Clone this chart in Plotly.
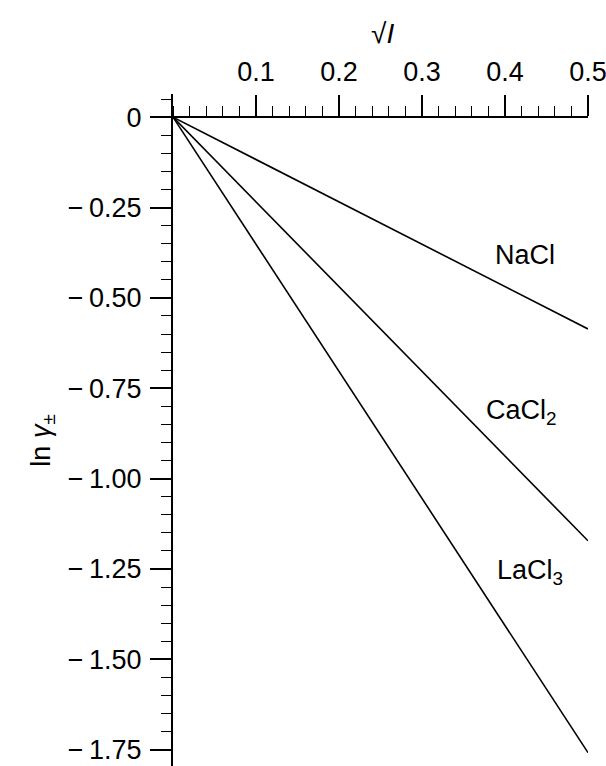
import plotly.graph_objects as go

# Data
sqrt_I = [0.0, 0.5]
lnG_NaCl = [0.0, -0.586]
lnG_CaCl2 = [0.0, -1.172]
lnG_LaCl3 = [0.0, -1.758]

x_ticks = [0.1, 0.2, 0.3, 0.4, 0.5]
x_ticktext = ["0.1", "0.2", "0.3", "0.4", "0.5"]
y_ticks = [0.0, -0.25, -0.5, -0.75, -1.0, -1.25, -1.5, -1.75]
y_ticktext = ["0", "−\u20090.25", "−\u20090.50", "−\u20090.75", "−\u20091.00",
              "−\u20091.25", "−\u20091.50", "−\u20091.75"]

labels = ["NaCl", "CaCl<sub>2</sub>", "LaCl<sub>3</sub>"]
label_x = [0.424, 0.420, 0.430]
label_y = [-0.382, -0.816, -1.258]

FONT = "Liberation Sans, Arial, sans-serif"

Y_TOP = 0.064
Y_BOT = -1.795

fig = go.Figure()
for ys in (lnG_NaCl, lnG_CaCl2, lnG_LaCl3):
    fig.add_trace(go.Scatter(x=sqrt_I, y=ys, mode="lines",
                             line=dict(color="black", width=1.6),
                             showlegend=False, hoverinfo="skip"))

for t, lx, ly in zip(labels, label_x, label_y):
    fig.add_annotation(x=lx, y=ly, text=t, showarrow=False,
                       font=dict(size=27, color="black", family=FONT))

fig.add_annotation(xref="x", yref="paper", x=0.252, y=1.0, yshift=61,
                   yanchor="middle",
                   text="√<i>I</i>", showarrow=False,
                   font=dict(size=28, color="black", family=FONT))
fig.add_annotation(xref="paper", yref="y", x=-0.36, y=-0.896,
                   text="ln <i>γ</i><sub>±</sub>", textangle=-90, showarrow=False,
                   font=dict(size=27, color="black", family=FONT))

fig.update_layout(
    width=606, height=766,
    margin=dict(l=173, r=18, t=94, b=0),
    paper_bgcolor="white", plot_bgcolor="white",
    font=dict(family=FONT, size=27, color="black"),
    xaxis=dict(range=[0, 0.5], side="top", anchor="free",
               position=(-Y_BOT) / (Y_TOP - Y_BOT),
               showgrid=False, zeroline=False,
               showline=True, linecolor="black", linewidth=2,
               tickmode="array", tickvals=x_ticks, ticktext=x_ticktext,
               ticks="outside", ticklen=21, tickwidth=1.5, tickcolor="black",
               ticklabelstandoff=3, ticklabeloverflow="allow",
               minor=dict(dtick=0.02, tick0=0, ticks="outside", ticklen=10,
                          tickwidth=1.2, tickcolor="black", showgrid=False)),
    yaxis=dict(range=[Y_BOT, Y_TOP], showgrid=False, zeroline=False,
               showline=True, linecolor="black", linewidth=2,
               tickmode="array", tickvals=y_ticks, ticktext=y_ticktext,
               ticks="outside", ticklen=21, tickwidth=1.5, tickcolor="black",
               ticklabelstandoff=3, ticklabeloverflow="allow",
               minor=dict(dtick=0.05, tick0=0, ticks="outside", ticklen=10,
                          tickwidth=1.2, tickcolor="black", showgrid=False)),
)

fig.write_html("out.html")
